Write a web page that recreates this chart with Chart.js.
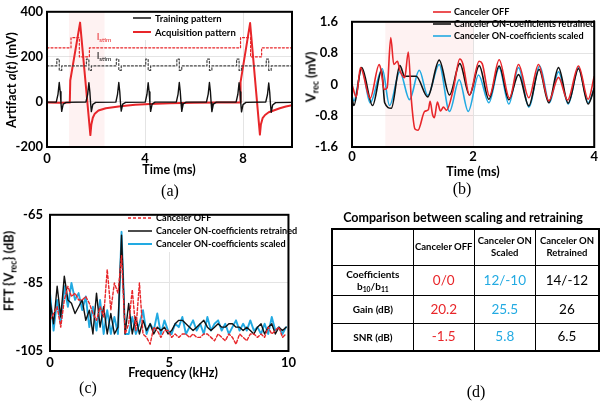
<!DOCTYPE html>
<html><head><meta charset="utf-8">
<script src="https://cdn.jsdelivr.net/npm/chart.js@4/dist/chart.umd.min.js"></script>
<style>
html,body{margin:0;padding:0;background:#fff;}
#wrap{position:relative;width:600px;height:402px;overflow:hidden;font-family:Lato,"Open Sans",sans-serif;}
canvas{position:absolute;}
.t{position:absolute;transform:translate(-50%,-50%);white-space:nowrap;font-weight:700;color:#000;line-height:1;}
.rot{transform:translate(-50%,-50%) rotate(-90deg);}
.cap{position:absolute;transform:translate(-50%,-50%);font-family:"Liberation Serif",serif;font-size:16px;line-height:1;}
sub{font-size:68%;vertical-align:-0.3em;line-height:0;}
#tbl{position:absolute;left:331px;top:228px;border-collapse:collapse;border:2.5px solid #000;}
#tbl td{border:1.5px solid #000;text-align:center;vertical-align:middle;padding:0;line-height:1.25;}
#tbl td.h{font-weight:700;font-size:9.5px;}
#tbl td.v{font-size:13.5px;}
</style></head><body>
<div id="wrap">
<canvas id="ca" width="300" height="200" style="left:0;top:0"></canvas>
<canvas id="cb" width="300" height="200" style="left:300px;top:0"></canvas>
<canvas id="cc" width="300" height="202" style="left:0;top:200px"></canvas>

<div class="t rot" style="left:11px;top:80px;font-size:13px;">Artifact <i>a</i>(<i>t</i>) (mV)</div>
<div class="t" style="left:169px;top:170px;font-size:12.5px;">Time (ms)</div>
<div class="cap" style="left:170px;top:191px;">(a)</div>
<div class="t" style="left:104px;top:37px;font-size:9.5px;color:#e8262a;font-weight:400;">I<sub>stim</sub></div>
<div class="t" style="left:104px;top:56px;font-size:9.5px;font-weight:400;">I<sub>stim</sub></div>

<div class="t rot" style="left:311px;top:77px;font-size:13px;">V<sub>rec</sub> (mV)</div>
<div class="t" style="left:473px;top:172px;font-size:12.5px;">Time (ms)</div>
<div class="cap" style="left:462px;top:189px;">(b)</div>

<div class="t rot" style="left:9px;top:271px;font-size:13px;">FFT {V<sub>rec</sub>} (dB)</div>
<div class="t" style="left:173px;top:373px;font-size:12.5px;">Frequency (kHz)</div>
<div class="cap" style="left:88px;top:388px;">(c)</div>

<div class="t" style="left:463px;top:218px;font-size:12.5px;">Comparison between scaling and retraining</div>
<table id="tbl"></table>
<div class="cap" style="left:476px;top:392px;">(d)</div>
</div>
<script>
// ---------- Panel (a) data ----------
const aXTicks = [0, 4, 8];
const aYTicks = [-200, 0, 200, 400];
const aShade = [0.9, 2.35];
const aBlackT = [0,0.38,0.45,0.50,0.54,0.57,0.60,0.66,0.78, 1.59,1.66,1.71,1.75,1.78,1.81,1.87,1.99, 2.81,2.88,2.93,2.97,3.00,3.03,3.09,3.21, 4.01,4.08,4.13,4.17,4.20,4.23,4.29,4.41, 5.28,5.35,5.40,5.44,5.47,5.50,5.56,5.68, 6.51,6.58,6.63,6.67,6.70,6.73,6.79,6.91, 7.72,7.79,7.84,7.88,7.91,7.94,8.00,8.12, 8.93,9.00,9.05,9.09,9.12,9.15,9.21,9.33, 10];
const aBlackV = [-1, 0,35,86,45,-5,-42,-10,-2, 0,34,85,44,-6,-43,-11,-2, -1,35,86,45,-5,-41,-10,-2, -1,34,85,44,-5,-42,-10,-1, 0,35,86,45,-4,-42,-9,-1, 0,35,86,46,-5,-43,-10,-1, 0,34,85,44,-6,-44,-12,-2, 0,33,84,43,-8,-46,-14,-3, -2];
const aRedT = [0,0.5,0.93,0.95,1.35,1.77,1.81,1.87,1.95,2.1,2.4,3.0,3.6,4.2,5.0,6.0,7.0,7.88,7.90,8.29,8.69,8.73,8.80,8.90,9.05,9.25,9.5,9.75,10];
const aRedV = [-3,-4,-3,95,352,-147,-100,-70,-52,-38,-28,-19,-13,-9,-6,-4,-3,-2,88,350,-145,-100,-72,-58,-46,-38,-28,-20,-15];
const aStimRedT = [0,0.98,1.32,1.73,7.90,8.31,8.76,10];
const aStimRedV = [240,285,200,240,285,200,240,240];
const aStimBlkT = [0,0.40,0.50,0.60, 1.61,1.71,1.81, 2.83,2.93,3.03, 4.03,4.13,4.23, 5.30,5.40,5.50, 6.53,6.63,6.73, 7.74,7.84,7.94, 8.95,9.05,9.15, 10];
const aStimBlkV = [160,190,140,160, 190,140,160, 190,140,160, 190,140,160, 190,140,160, 190,140,160, 190,140,160, 190,140,160, 160];

// ---------- Panel (b) data ----------
const bXTicks = [0, 2, 4];
const bYTicks = [-1.6, -0.8, 0, 0.8, 1.6];
const bShade = [0.55, 2.0];
const bRedT = [0,0.07,0.14,0.30,0.45,0.48,0.53,0.58,0.64,0.69,0.75,0.79,0.87,0.93,0.98,1.04,1.09,1.20,1.26,1.29,1.33,1.36,1.41,1.46,1.51,1.56,1.67,1.78,1.83,1.94,2.10,2.15,2.27,2.43,2.60,2.75,2.92,3.08,3.25,3.41,3.56,3.74,3.90,4.0];
const bRedV = [0.0,-0.32,0.43,-0.35,0.51,0.36,-0.13,-0.09,1.20,0.51,0.59,0.36,0.17,0.83,-0.39,-1.14,-1.17,-0.69,-0.65,-0.43,-0.77,-0.85,-0.45,-0.68,-0.58,-0.66,-0.15,0.65,0.53,-0.27,0.59,0.53,-0.30,0.63,-0.35,0.51,-0.34,0.51,-0.42,0.18,-0.40,0.47,-0.38,0.20];
const bBlackT = [0,0.03,0.16,0.34,0.49,0.54,0.65,0.79,0.87,1.06,1.25,1.44,1.61,1.78,1.94,2.10,2.26,2.43,2.59,2.75,2.92,3.09,3.25,3.41,3.57,3.74,3.90,4.0];
const bBlackV = [-0.35,-0.54,0.43,-0.54,0.36,-0.47,-0.61,0.48,0.21,0.21,-0.32,0.62,-0.27,0.53,-0.27,0.48,-0.38,0.47,-0.39,0.25,-0.55,0.38,-0.47,0.43,-0.48,0.40,-0.50,-0.10];
const bBlueT = [0,0.03,0.16,0.30,0.50,0.62,0.79,0.95,1.11,1.25,1.44,1.61,1.77,1.92,2.09,2.26,2.43,2.59,2.75,2.92,3.10,3.26,3.41,3.57,3.74,3.90,4.0];
const bBlueV = [-0.30,-0.42,0.40,-0.47,0.40,-0.54,0.32,-0.39,0.36,-0.28,0.51,-0.69,0.12,-0.69,0.24,-0.47,0.43,-0.50,0.43,-0.58,0.47,-0.47,0.32,-0.50,0.43,-0.47,-0.10];

// ---------- Panel (c) data ----------
const cXTicks = [0, 5, 10];
const cYTicks = [-105, -85, -65];
const cFreq = [0,0.15,0.3,0.45,0.6,0.75,0.9,1.05,1.2,1.35,1.5,1.65,1.8,1.95,2.1,2.25,2.4,2.55,2.7,2.85,3,3.15,3.3,3.45,3.6,3.75,3.9,4.05,4.2,4.35,4.5,4.65,4.8,4.95,5.1,5.25,5.4,5.55,5.7,5.85,6,6.15,6.3,6.45,6.6,6.75,6.9,7.05,7.2,7.35,7.5,7.65,7.8,7.95,8.1,8.25,8.4,8.55,8.7,8.85,9,9.15,9.3,9.45,9.6,9.75,9.9];
const cOff = [-96,-94,-92,-98,-90,-86,-89,-88,-90,-90,-89,-91,-94,-96,-92,-95,-81,-93,-85,-88,-77,-100,-97,-87,-99,-85,-100,-101,-103,-98,-99,-101,-99,-99,-101,-100,-101,-100,-100,-101,-100,-101,-101,-100,-100,-101,-102,-100,-101,-102,-100,-101,-103,-100,-101,-102,-100,-100,-101,-100,-101,-98,-100,-99,-98,-101,-100];
const cRetrained = [-90,-97,-86,-95,-83,-90,-91,-94,-92,-90,-96,-93,-100,-88,-98,-92,-100,-94,-100,-98,-71,-100,-91,-100,-95,-100,-96,-99,-97,-100,-98,-99,-98,-100,-99,-97,-96,-96,-97,-98,-99,-98,-97,-96,-98,-99,-98,-97,-98,-98,-97,-97,-98,-98,-99,-98,-99,-100,-98,-97,-100,-98,-97,-100,-98,-99,-98];
const cScaled = [-88,-99,-90,-97,-86,-92,-85,-90,-88,-93,-89,-98,-92,-99,-90,-100,-93,-100,-95,-100,-70,-100,-100,-95,-100,-97,-93,-100,-97,-99,-94,-100,-96,-99,-100,-97,-98,-95,-100,-98,-96,-99,-97,-100,-95,-99,-97,-96,-99,-97,-100,-98,-96,-99,-97,-99,-96,-99,-98,-100,-97,-100,-95,-99,-98,-100,-98];

// ---------- Panel (d) data ----------
const dColHeaders = ['', 'Canceler OFF', 'Canceler ON<br>Scaled', 'Canceler ON<br>Retrained'];
const dRowLabels = ['Coefficients<br>b<sub>10</sub>/b<sub>11</sub>', 'Gain (dB)', 'SNR (dB)'];
const dOff = ['0/0', '20.2', '-1.5'];
const dScaled = ['12/-10', '25.5', '5.8'];
const dRetrained = ['14/-12', '26', '6.5'];

const RED = '#e8262a', BLUE = '#22aae2', BLACK = '#111';
const pts = (xs, ys) => xs.map((x, i) => ({x: x, y: ys[i]}));

// ---------- plugins ----------
const boxPlugin = {id:'box', afterDatasetsDraw(chart){
  const {ctx, chartArea:a} = chart; ctx.save(); ctx.strokeStyle='#000'; ctx.lineWidth=2;
  ctx.strokeRect(a.left, a.top, a.right-a.left, a.bottom-a.top); ctx.restore(); }};
const shadePlugin = {id:'shade', beforeDatasetsDraw(chart, args, o){
  if(!o || !o.range) return; const {ctx, chartArea:a, scales} = chart;
  const x1 = scales.x.getPixelForValue(o.range[0]), x2 = scales.x.getPixelForValue(o.range[1]);
  ctx.save(); ctx.fillStyle='rgba(245,160,160,0.14)'; ctx.fillRect(x1, a.top, x2-x1, a.bottom-a.top); ctx.restore(); }};
const legPlugin = {id:'leg', afterDatasetsDraw(chart, args, o){
  if(!o || !o.items) return; const ctx = chart.ctx; ctx.save();
  if(o.bg){ ctx.fillStyle='#fff'; ctx.fillRect(o.bg[0], o.bg[1], o.bg[2], o.bg[3]); }
  o.items.forEach((it, i) => {
    const y = o.y + i*o.dy;
    ctx.strokeStyle = it.color; ctx.lineWidth = it.width; ctx.setLineDash(it.dash || []);
    ctx.beginPath(); ctx.moveTo(o.x, y); ctx.lineTo(o.x + o.len, y); ctx.stroke();
    ctx.setLineDash([]); ctx.fillStyle = '#000'; ctx.font = o.font; ctx.textBaseline = 'middle';
    ctx.fillText(it.text, o.tx, y + 0.5);
  });
  ctx.restore(); }};

function axis(min, max, ticks, fit, isX, pad){
  return {
    type:'linear', min:min, max:max,
    afterBuildTicks: s => { s.ticks = ticks.map(v => ({value:v})); },
    afterFit: s => { if(isX) s.height = fit; else s.width = fit; },
    grid:{color:'#e4e4e4', lineWidth:1, drawTicks:false},
    border:{display:false},
    ticks:{padding:pad, color:'#000', font:{family:'Lato', weight:'bold', size:13}, callback: v => String(v), maxRotation:0, autoSkip:false}
  };
}
function makeChart(id, datasets, sc, padding, pluginOpts){
  return new Chart(document.getElementById(id), {
    type:'line', data:{datasets:datasets},
    options:{
      responsive:false, animation:false, devicePixelRatio:1,
      layout:{padding:padding},
      elements:{point:{radius:0}, line:{borderJoinStyle:'round', borderCapStyle:'round'}},
      plugins:Object.assign({legend:{display:false}, tooltip:{enabled:false}}, pluginOpts),
      scales:sc
    },
    plugins:[shadePlugin, legPlugin, boxPlugin]
  });
}

// ---------- Chart (a) ----------
makeChart('ca', [
  {data:pts(aStimBlkT, aStimBlkV), borderColor:'#444', borderWidth:1.2, borderDash:[2,2], stepped:true, fill:false},
  {data:pts(aStimRedT, aStimRedV), borderColor:RED, borderWidth:1.2, borderDash:[2,2], stepped:true, fill:false},
  {data:pts(aBlackT, aBlackV), borderColor:BLACK, borderWidth:1.4, fill:false},
  {data:pts(aRedT, aRedV), borderColor:RED, borderWidth:2, fill:false}
], {
  x: axis(0, 10, aXTicks, 53, true, 4),
  y: axis(-200, 400, aYTicks, 47, false, 4)
}, {top:5, right:8, left:0, bottom:0}, {
  shade:{range:aShade},
  leg:{items:[{text:'Training pattern', color:BLACK, width:1.5},{text:'Acquisition pattern', color:RED, width:2}],
       x:133, len:18, tx:155, y:18, dy:14, font:'bold 9.5px Lato', bg:[130, 10, 100, 30]}
});

// ---------- Chart (b) ----------
const mono = {cubicInterpolationMode:'monotone', fill:false};
makeChart('cb', [
  Object.assign({data:pts(bRedT, bRedV), borderColor:RED, borderWidth:1.6}, mono),
  Object.assign({data:pts(bBlackT, bBlackV), borderColor:BLACK, borderWidth:1.6}, mono),
  Object.assign({data:pts(bBlueT, bBlueV), borderColor:BLUE, borderWidth:1.6}, mono)
], {
  x: axis(0, 4, bXTicks, 53, true, 2),
  y: axis(-1.6, 1.6, bYTicks, 52, false, 14)
}, {top:5, right:4, left:0, bottom:0}, {
  shade:{range:bShade},
  leg:{items:[{text:'Canceler OFF', color:RED, width:1.6},{text:'Canceler ON-coefficients retrained', color:BLACK, width:1.6},{text:'Canceler ON-coefficients scaled', color:BLUE, width:1.6}],
       x:133, len:18, tx:154, y:12, dy:12, font:'bold 9.1px Lato'}
});

// ---------- Chart (c) ----------
makeChart('cc', [
  {data:pts(cFreq, cOff), borderColor:RED, borderWidth:1.4, borderDash:[3,2], fill:false},
  {data:pts(cFreq, cRetrained), borderColor:BLACK, borderWidth:1.4, fill:false},
  {data:pts(cFreq, cScaled), borderColor:BLUE, borderWidth:1.9, fill:false}
], {
  x: axis(0, 10, cXTicks, 51, true, 4),
  y: axis(-105, -65, cYTicks, 50, false, 7)
}, {top:13, right:7, left:0, bottom:0}, {
  leg:{items:[{text:'Canceler OFF', color:RED, width:1.5, dash:[3,2]},{text:'Canceler ON-coefficients retrained', color:BLACK, width:1.5},{text:'Canceler ON-coefficients scaled', color:BLUE, width:2}],
       x:128, len:24, tx:156, y:18, dy:13, font:'bold 9.1px Lato', bg:[127, 14, 163, 38]}
});

// ---------- Table (d) ----------
(function(){
  const tbl = document.getElementById('tbl');
  const widths = [81, 61, 61, 63], heights = [36, 30, 28, 28];
  const colors = [RED, BLUE, '#000'];
  const cols = [dOff, dScaled, dRetrained];
  let html = '<tr style="height:'+heights[0]+'px">';
  dColHeaders.forEach((h, j) => { html += '<td class="h" style="width:'+widths[j]+'px">'+h+'</td>'; });
  html += '</tr>';
  dRowLabels.forEach((lab, i) => {
    html += '<tr style="height:'+heights[i+1]+'px"><td class="h" style="font-size:10px">'+lab+'</td>';
    cols.forEach((c, j) => { html += '<td class="v" style="color:'+colors[j]+'">'+c[i]+'</td>'; });
    html += '</tr>';
  });
  tbl.innerHTML = html;
})();
</script>
</body></html>
